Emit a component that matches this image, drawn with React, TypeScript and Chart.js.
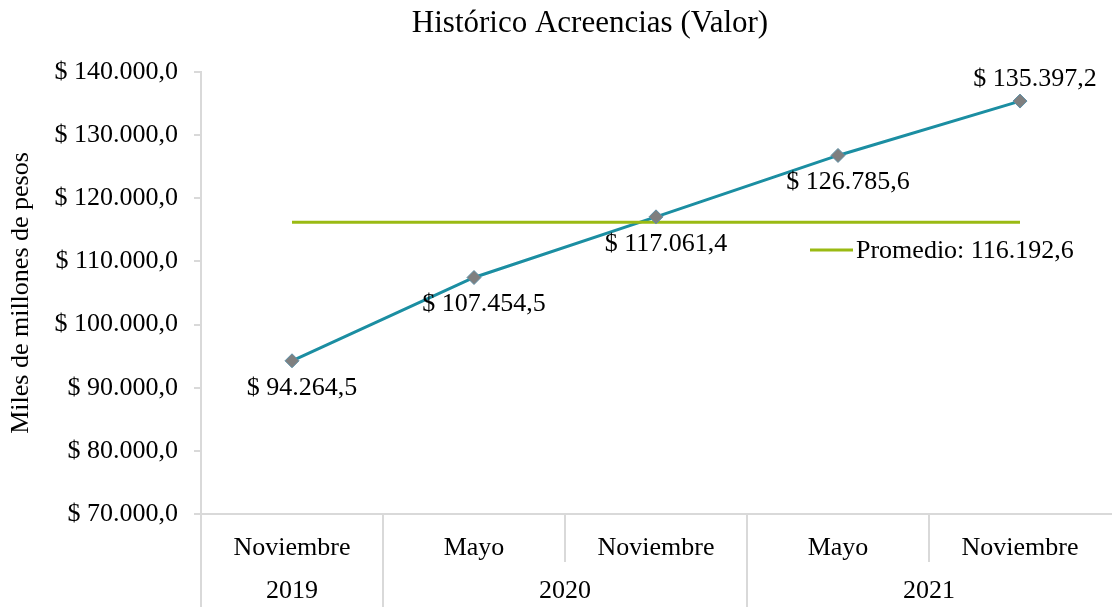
import React, { useEffect, useRef } from "react";
import { Chart, registerables } from "chart.js";

Chart.register(...registerables);

const months = ["Noviembre", "Mayo", "Noviembre", "Mayo", "Noviembre"];
const years = ["2019", "2020", "2021"];
const yearSpans = [1, 2, 2];
const values = [94264.5, 107454.5, 117061.4, 126785.6, 135397.2];
const promedio = 116192.6;
const labelPlacement = ["below", "below", "below", "below", "above"];

const title = "Histórico Acreencias (Valor)";
const yTitle = "Miles de millones de pesos";
const legendText = "Promedio: 116.192,6";

const FONT = "'Liberation Serif', 'Times New Roman', serif";
const BLUE = "#1b8ea2";
const GREEN = "#9aba13";
const GRID = "#d9d9d9";

function fmt(v: number): string {
  const fixed = v.toFixed(1);
  const [intPart, dec] = fixed.split(".");
  const withSep = intPart.replace(/\B(?=(\d{3})+(?!\d))/g, ".");
  return "$ " + withSep + "," + dec;
}

const decorPlugin = {
  id: "decor",
  afterDatasetsDraw(chart: any) {
    const ctx = chart.ctx as CanvasRenderingContext2D;
    const area = chart.chartArea;
    const x = chart.scales.x;
    ctx.save();

    // x axis line extension to the left (like the y tick marks)
    ctx.strokeStyle = GRID;
    ctx.lineWidth = 2;
    ctx.beginPath();
    ctx.moveTo(area.left - 7, area.bottom);
    ctx.lineTo(area.left, area.bottom);
    ctx.stroke();

    // data labels
    const meta = chart.getDatasetMeta(2);
    ctx.font = `26px ${FONT}`;
    ctx.fillStyle = "#000";
    ctx.textAlign = "center";
    meta.data.forEach((pt: any, i: number) => {
      if (labelPlacement[i] === "below") {
        ctx.textBaseline = "top";
        ctx.fillText(fmt(values[i]), pt.x + 10, pt.y + 14);
      } else {
        ctx.textBaseline = "bottom";
        ctx.fillText(fmt(values[i]), pt.x + 15, pt.y - 9);
      }
    });

    // legend
    ctx.strokeStyle = GREEN;
    ctx.lineWidth = 3;
    ctx.beginPath();
    ctx.moveTo(810, 250);
    ctx.lineTo(853, 250);
    ctx.stroke();
    ctx.textAlign = "left";
    ctx.textBaseline = "middle";
    ctx.fillText(legendText, 856, 251);

    // title
    ctx.font = `31px ${FONT}`;
    ctx.textAlign = "center";
    ctx.textBaseline = "middle";
    ctx.fillText(title, 590, 24);

    // category axis (two levels)
    const n = months.length;
    const centers = months.map((_, i) => x.getPixelForValue(i));
    const bounds: number[] = [area.left];
    for (let i = 0; i < n - 1; i++) bounds.push((centers[i] + centers[i + 1]) / 2);
    bounds.push(area.right);

    const yearStarts: number[] = [];
    let acc = 0;
    yearSpans.forEach((s) => {
      yearStarts.push(acc);
      acc += s;
    });

    ctx.strokeStyle = GRID;
    ctx.lineWidth = 2;
    const bottom = chart.height;
    for (let i = 0; i < n; i++) {
      const full = yearStarts.includes(i);
      ctx.beginPath();
      ctx.moveTo(bounds[i], area.bottom);
      ctx.lineTo(bounds[i], full ? bottom : area.bottom + 48);
      ctx.stroke();
    }

    ctx.font = `26px ${FONT}`;
    ctx.fillStyle = "#000";
    ctx.textAlign = "center";
    ctx.textBaseline = "middle";
    months.forEach((m, i) => {
      ctx.fillText(m, centers[i], area.bottom + 34);
    });
    years.forEach((yl, j) => {
      const s = yearStarts[j];
      const e = s + yearSpans[j];
      const cx = (bounds[s] + bounds[e]) / 2;
      ctx.fillText(yl, cx, area.bottom + 77);
    });

    ctx.restore();
  },
};

export default function App() {
  const ref = useRef<HTMLCanvasElement | null>(null);

  useEffect(() => {
    if (!ref.current) return;
    const chart = new Chart(ref.current, {
      type: "line",
      data: {
        labels: months,
        datasets: [
          {
            label: "Valor",
            data: values,
            borderColor: BLUE,
            borderWidth: 3,
            pointRadius: 0,
            order: 2,
          },
          {
            label: "Promedio",
            data: months.map(() => promedio),
            borderColor: GREEN,
            borderWidth: 3,
            pointRadius: 0,
            order: 1,
          },
          {
            label: "Puntos",
            data: values,
            showLine: false,
            pointStyle: "rectRot",
            pointRadius: 7,
            pointBackgroundColor: "#7f7f7f",
            pointBorderColor: "#5d8fa6",
            pointBorderWidth: 1,
            order: 0,
          },
        ],
      },
      options: {
        animation: false,
        responsive: false,
        maintainAspectRatio: false,
        layout: { autoPadding: false, padding: { top: 72, right: 1, left: 0, bottom: 0 } },
        plugins: {
          legend: { display: false },
          title: { display: false },
          tooltip: { enabled: false },
        },
        scales: {
          x: {
            type: "category",
            offset: true,
            grid: { display: false },
            ticks: { display: false },
            border: { display: true, color: GRID, width: 2 },
            afterFit: (s: any) => {
              s.height = 93;
            },
          },
          y: {
            min: 70000,
            max: 140000,
            ticks: {
              stepSize: 10000,
              callback: (v: any) => fmt(Number(v)),
              font: { family: FONT, size: 26 },
              color: "#000",
              padding: 16,
            },
            grid: {
              display: true,
              drawOnChartArea: false,
              drawTicks: true,
              tickLength: 7,
              color: GRID,
              lineWidth: 2,
            },
            border: { display: true, color: GRID, width: 2 },
            title: {
              display: true,
              text: yTitle,
              font: { family: FONT, size: 26 },
              color: "#000",
              padding: { top: 6, bottom: 0 },
            },
            afterFit: (s: any) => {
              s.width = 201;
            },
          },
        },
      },
      plugins: [decorPlugin],
    });
    return () => chart.destroy();
  }, []);

  return (
    <div style={{ position: "fixed", left: 0, top: 0, width: 1112, height: 607, background: "#fff" }}>
      <canvas ref={ref} width={1112} height={607} style={{ width: 1112, height: 607 }} />
    </div>
  );
}
